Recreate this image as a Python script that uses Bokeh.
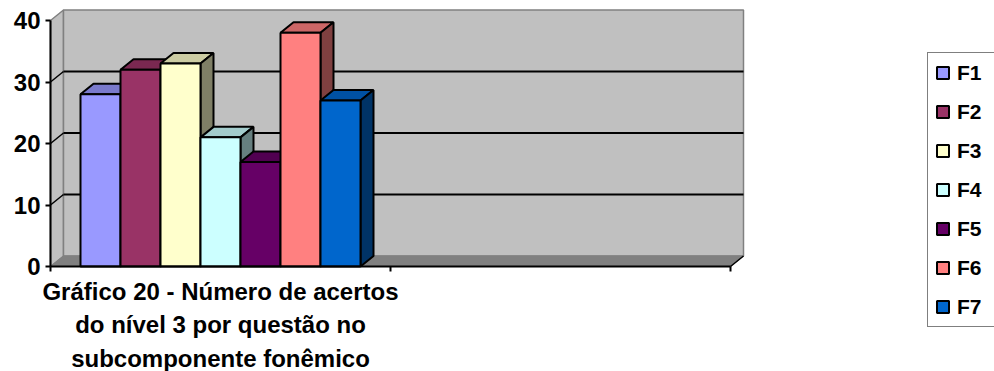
from bokeh.plotting import figure
from bokeh.models import Range1d, LinearAxis, FixedTicker, Legend, LegendItem
from bokeh.embed import file_html
from bokeh.resources import INLINE

# --- data -------------------------------------------------------------
series = ["F1", "F2", "F3", "F4", "F5", "F6", "F7"]
acertos = [28, 32, 33, 21, 17, 38, 27]
colors = ["#9999FF", "#993366", "#FFFFCC", "#CCFFFF", "#660066", "#FF8080", "#0066CC"]
y_ticks = [0, 10, 20, 30, 40]
category_label = ["Gráfico 20 - Número de acertos",
                  "do nível 3 por questão no",
                  "subcomponente fonêmico"]
n_categories = 2

# --- layout constants ---------------------------------------------------
W, H = 994, 371
ORIGIN_X = 50        # screen x of the value axis
ORIGIN_Y = 266       # screen y of the category axis
CAT_PX = 340.0       # pixels per category
UNIT_PX = 246 / 40   # pixels per value unit
DX = 13 / CAT_PX     # oblique depth offset (x, category units)
DY = 10.5 / UNIT_PX  # oblique depth offset (y, value units)
GAP = 1.5            # gap width, in bar widths
FONT = "Liberation Sans"
WALL = "#C0C0C0"
EDGE = "#808080"

y_max = max(y_ticks)


def shade(hex_color, k):
    r, g, b = (int(hex_color[i:i + 2], 16) for i in (1, 3, 5))
    return "#%02x%02x%02x" % (int(r * k), int(g * k), int(b * k))


p = figure(width=W, height=H, output_backend="svg", toolbar_location=None,
           x_range=Range1d(-ORIGIN_X / CAT_PX, (W - ORIGIN_X) / CAT_PX),
           y_range=Range1d(-(H - ORIGIN_Y) / UNIT_PX, ORIGIN_Y / UNIT_PX),
           x_axis_type=None, y_axis_type=None, min_border=0)
p.grid.visible = False
p.outline_line_color = None
p.background_fill_color = "white"
p.border_fill_color = "white"

x_end = float(n_categories)

# walls and floor
p.patch([0, DX, DX, 0], [0, DY, y_max + DY, y_max],
        fill_color=WALL, line_color=EDGE, line_width=1.5)
p.quad(left=DX, right=x_end + DX, bottom=DY, top=y_max + DY,
       fill_color=WALL, line_color=EDGE, line_width=1.5)
p.patch([0, x_end, x_end + DX, DX], [0, 0, DY, DY],
        fill_color=EDGE, line_color=EDGE, line_width=1)
p.segment(x0=[x_end], y0=[0], x1=[x_end + DX], y1=[DY], line_color="black", line_width=1.5)

# gridlines on the back and side walls
grid_vals = [v for v in y_ticks if 0 < v < y_max]
p.segment(x0=[DX] * len(grid_vals), y0=[v + DY for v in grid_vals],
          x1=[x_end + DX] * len(grid_vals), y1=[v + DY for v in grid_vals],
          line_color="black", line_width=2)
p.segment(x0=[0] * len(grid_vals), y0=grid_vals,
          x1=[DX] * len(grid_vals), y1=[v + DY for v in grid_vals],
          line_color="black", line_width=1.5)

# 3D columns: top, side, then front face for each series
bar_w = 1.0 / (len(series) + GAP)
fronts = []
for i, (name, v, c) in enumerate(zip(series, acertos, colors)):
    l = (GAP / 2 + i) * bar_w
    r = l + bar_w
    p.patch([l, r, r + DX, l + DX], [v, v, v + DY, v + DY],
            fill_color=shade(c, 0.8), line_color="black", line_width=2)
    p.patch([r, r + DX, r + DX, r], [0, DY, v + DY, v],
            fill_color=shade(c, 0.5), line_color="black", line_width=2)
    fr = p.quad(left=l, right=r, bottom=0, top=v,
                fill_color=c, line_color="black", line_width=2)
    fronts.append(fr)

# category axis: ticks on the category boundaries, label centred in the first one
xaxis = LinearAxis(fixed_location=0,
                   ticker=FixedTicker(ticks=[0.5], minor_ticks=list(range(n_categories + 1))),
                   bounds=(0, x_end),
                   axis_line_width=2, axis_line_color="black",
                   major_tick_line_color=None, major_tick_out=5, major_tick_in=0,
                   minor_tick_line_color="black", minor_tick_line_width=2,
                   minor_tick_out=5, minor_tick_in=0,
                   major_label_overrides={0.5: "\n".join(category_label)},
                   major_label_text_font=FONT, major_label_text_font_size="24px",
                   major_label_text_font_style="bold", major_label_text_color="black",
                   major_label_text_line_height=1.25,
                   major_label_standoff=6)
p.add_layout(xaxis, "below")

# value axis
yaxis = LinearAxis(fixed_location=0,
                   ticker=FixedTicker(ticks=y_ticks), bounds=(0, y_max),
                   axis_line_width=2, axis_line_color="black",
                   major_tick_line_width=2, major_tick_line_color="black",
                   major_tick_out=5, major_tick_in=0,
                   minor_tick_line_color=None,
                   major_label_text_font=FONT, major_label_text_font_size="24px",
                   major_label_text_font_style="bold", major_label_text_color="black",
                   major_label_standoff=5)
p.add_layout(yaxis, "left")

legend = Legend(items=[LegendItem(label=s, renderers=[r]) for s, r in zip(series, fronts)],
                location=(927, 44), orientation="vertical",
                border_line_color="black", border_line_width=1.5,
                background_fill_color="white", background_fill_alpha=1,
                padding=7, spacing=14, margin=0,
                label_height=25, label_width=110,
                glyph_height=15, glyph_width=15, label_standoff=7,
                label_text_font=FONT, label_text_font_size="21px",
                label_text_font_style="bold", label_text_color="black")
p.add_layout(legend)

open("out.html", "w").write(file_html(p, INLINE))
